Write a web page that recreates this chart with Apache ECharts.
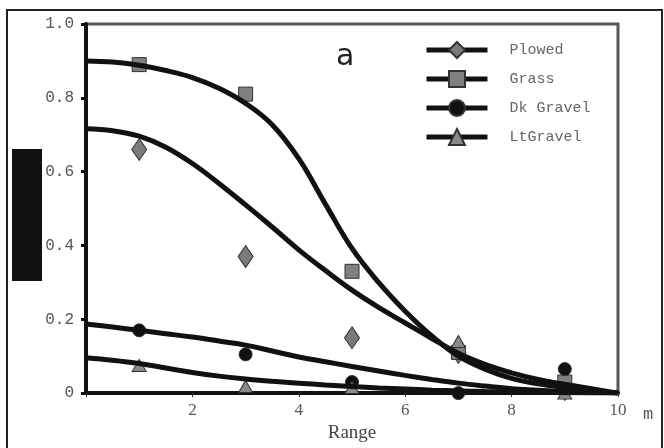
<!DOCTYPE html>
<html>
<head>
<meta charset="utf-8">
<script src="https://cdn.jsdelivr.net/npm/echarts@6/dist/echarts.min.js"></script>
<style>
  html, body { margin: 0; padding: 0; background: #fff; }
  #main { width: 664px; height: 448px; }
</style>
</head>
<body>
<div id="main"></div>
<script>
// 曲線的 x 座標
let curveX = [0, 0.5, 1, 1.5, 2, 2.5, 3, 3.5, 4, 4.5, 5, 5.5, 6, 6.5, 7, 7.5, 8, 8.5, 9, 9.5, 10];
let plowedCurve = [0.716, 0.711, 0.696, 0.666, 0.622, 0.568, 0.51, 0.45, 0.388, 0.332, 0.279, 0.232, 0.19, 0.148, 0.108, 0.078, 0.055, 0.037, 0.024, 0.012, 0];
let grassCurve = [0.90, 0.897, 0.888, 0.874, 0.855, 0.826, 0.785, 0.727, 0.635, 0.512, 0.392, 0.30, 0.222, 0.155, 0.10, 0.065, 0.04, 0.025, 0.015, 0.007, 0];
let dkCurve = [0.187, 0.179, 0.17, 0.161, 0.152, 0.141, 0.13, 0.114, 0.098, 0.085, 0.072, 0.06, 0.048, 0.037, 0.027, 0.019, 0.012, 0.008, 0.004, 0.002, 0];
let ltCurve = [0.096, 0.089, 0.08, 0.068, 0.056, 0.046, 0.038, 0.032, 0.027, 0.022, 0.018, 0.014, 0.011, 0.008, 0.006, 0.004, 0.003, 0.002, 0.001, 0.0005, 0];

// 量測點
let pointX = [1, 3, 5, 7, 9];
let plowedPts = [0.66, 0.37, 0.15, 0.11, 0.01];
let grassPts = [0.89, 0.81, 0.33, 0.11, 0.03];
let dkPts = [0.17, 0.105, 0.03, 0.0, 0.065];
let ltPts = [0.075, 0.018, 0.015, 0.14, 0.0];

let names = ['Plowed', 'Grass', 'Dk Gravel', 'LtGravel'];

let chart = echarts.init(document.getElementById('main'));

function pairs(xs, ys) {
    return xs.map((x, i) => [x, ys[i]]);
}

function curveSeries(name, ys, symbol, size, color) {
    return {
        name: name,
        type: 'line',
        smooth: 0.4,
        showSymbol: false,
        symbol: symbol,
        symbolSize: size,
        z: 3,
        lineStyle: { color: '#111', width: 5 },
        itemStyle: { color: color, borderColor: '#333', borderWidth: 1 },
        data: pairs(curveX, ys)
    };
}

function pointSeries(name, ys, symbol, size, color) {
    return {
        name: name + ' pts',
        type: 'scatter',
        symbol: symbol,
        symbolSize: size,
        z: 2,
        itemStyle: { color: color, borderColor: '#333', borderWidth: 1, opacity: 1 },
        data: pairs(pointX, ys)
    };
}

let mono = '"Liberation Mono", "DejaVu Sans Mono", monospace';
let serif = '"Liberation Serif", "DejaVu Serif", serif';

let option = {
    animation: false,
    backgroundColor: '#fff',
    title: {
        text: 'a',
        left: 331,
        top: 37,
        textStyle: { fontSize: 30, fontWeight: 'normal', color: '#222', fontFamily: '"DejaVu Sans", sans-serif' }
    },
    legend: {
        orient: 'vertical',
        left: 419,
        top: 36,
        itemWidth: 61,
        itemHeight: 20,
        itemGap: 11,
        data: names,
        lineStyle: { width: 5, color: '#111' },
        textStyle: { fontFamily: mono, fontSize: 15, color: '#666', padding: [0, 0, 0, 17] }
    },
    grid: {
        left: 86,
        right: 46,
        top: 24,
        bottom: 51,
        show: true,
        borderColor: '#555',
        borderWidth: 3
    },
    xAxis: {
        type: 'value',
        min: 0,
        max: 10,
        interval: 2,
        name: 'Range',
        nameLocation: 'middle',
        nameGap: 27,
        nameTextStyle: { fontFamily: serif, fontSize: 19, color: '#444' },
        splitLine: { show: false },
        axisLine: { lineStyle: { color: '#111', width: 4 } },
        axisTick: { length: 4, lineStyle: { color: '#333', width: 1 } },
        axisLabel: {
            margin: 9,
            fontFamily: serif,
            fontSize: 17,
            color: '#555',
            formatter: (v) => v === 0 ? '' : String(v)
        }
    },
    yAxis: {
        type: 'value',
        min: 0,
        max: 1,
        interval: 0.2,
        splitLine: { show: false },
        axisLine: { lineStyle: { color: '#111', width: 4 } },
        axisTick: { length: 5, lineStyle: { color: '#111', width: 3 } },
        axisLabel: {
            margin: 12,
            fontFamily: mono,
            fontSize: 16,
            color: '#555',
            formatter: (v) => v === 0 ? '0' : v.toFixed(1)
        }
    },
    graphic: [
        {
            type: 'rect',
            shape: { x: 7, y: 10, width: 655, height: 450 },
            style: { fill: 'none', stroke: '#222', lineWidth: 2 },
            z: -1
        },
        {
            type: 'rect',
            shape: { x: 12, y: 149, width: 30, height: 132 },
            style: { fill: '#111' }
        },
        {
            type: 'text',
            left: 643,
            top: 406,
            style: { text: 'm', fontFamily: mono, fontSize: 17, fill: '#555' }
        }
    ],
    series: [
        curveSeries(names[0], plowedCurve, 'diamond', [15, 22], '#7a7a7a'),
        curveSeries(names[1], grassCurve, 'rect', 14, '#808080'),
        curveSeries(names[2], dkCurve, 'circle', 13, '#111'),
        curveSeries(names[3], ltCurve, 'triangle', [14, 12], '#8a8a8a'),
        pointSeries(names[0], plowedPts, 'diamond', [15, 22], '#7a7a7a'),
        pointSeries(names[1], grassPts, 'rect', 14, '#808080'),
        pointSeries(names[2], dkPts, 'circle', 13, '#111'),
        pointSeries(names[3], ltPts, 'triangle', [14, 12], '#8a8a8a')
    ]
};

chart.setOption(option);
</script>
</body>
</html>
